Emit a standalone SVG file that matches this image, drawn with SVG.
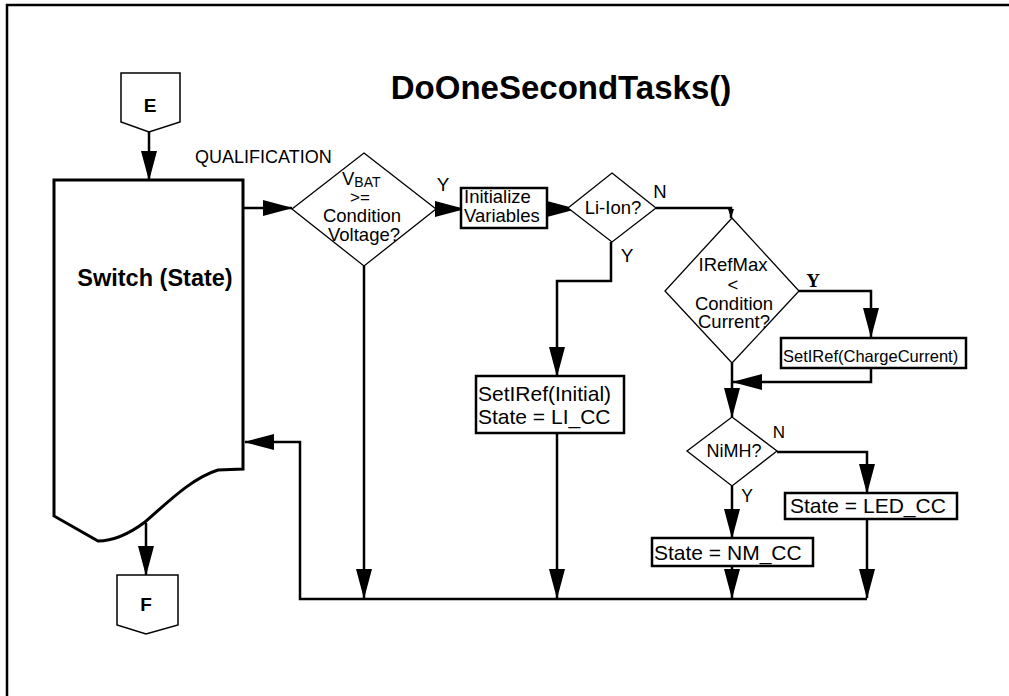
<svg xmlns="http://www.w3.org/2000/svg" width="1009" height="696" viewBox="0 0 1009 696">
<style>
text{font-family:"Liberation Sans",Arial,sans-serif;fill:#000}
.b{font-weight:bold}
.c{text-anchor:middle}
.dia{fill:#fff;stroke:#000;stroke-width:1.3}
.box{fill:#fff;stroke:#000;stroke-width:2.5}
.conn{fill:none;stroke:#000;stroke-width:2.5}
.off{fill:#fff;stroke:#000;stroke-width:1.5}
.t18{font-size:18.5px}
.t21{font-size:21px}
</style>
<defs>
<marker id="arr" markerUnits="userSpaceOnUse" markerWidth="30" markerHeight="18" refX="29" refY="8" orient="auto" viewBox="0 0 30 16">
<path d="M0,0 L30,8 L0,16 Z" fill="#000"/>
</marker>
<marker id="arrs" markerUnits="userSpaceOnUse" markerWidth="9" markerHeight="6" refX="9" refY="3" orient="auto" viewBox="0 0 9 6">
<path d="M0,0 L9,3 L0,6 Z" fill="#000"/>
</marker>
</defs>
<rect width="1009" height="696" fill="#fff"/>
<path d="M7,696 V5 H1009" fill="none" stroke="#000" stroke-width="2.5"/>
<text class="b c" x="561" y="99" font-size="33">DoOneSecondTasks()</text>

<g id="connectors">
<path class="conn" d="M149,132 V180" marker-end="url(#arr)"/>
<path class="conn" d="M243,208 H292" marker-end="url(#arr)"/>
<path class="conn" d="M436,209 H464" marker-end="url(#arr)"/>
<path class="conn" d="M547,209 H576" marker-end="url(#arr)"/>
<path class="conn" d="M656,208 H731 V218" marker-end="url(#arrs)"/>
<path class="conn" d="M611,242 V281 H557 V376" marker-end="url(#arr)"/>
<path class="conn" d="M799,291 H871 V337" marker-end="url(#arr)"/>
<path class="conn" d="M871,368 V382 H733" marker-end="url(#arr)"/>
<path class="conn" d="M732,363 V417" marker-end="url(#arr)"/>
<path class="conn" d="M777,452 H867 V493" marker-end="url(#arr)"/>
<path class="conn" d="M732,486 V538" marker-end="url(#arr)"/>
<path class="conn" d="M732,566 V598" marker-end="url(#arr)"/>
<path class="conn" d="M867,519 V598" marker-end="url(#arr)"/>
<path class="conn" d="M557,433 V598" marker-end="url(#arr)"/>
<path class="conn" d="M364,266 V598" marker-end="url(#arr)"/>
<path class="conn" d="M867,599 H300 V442 H245" marker-end="url(#arr)"/>
<path class="conn" d="M146,523 V575" marker-end="url(#arr)"/>
<text x="195" y="163" font-size="18">QUALIFICATION</text>
<text class="c" x="443" y="191" font-size="19">Y</text>
<text class="c" x="627" y="262" font-size="19">Y</text>
<text class="c" x="660" y="198" font-size="18.5">N</text>
<text class="c" x="813" y="287" font-size="19" font-weight="bold" style="font-family:'Liberation Serif','Times New Roman',serif">Y</text>
<text class="c" x="779" y="438" font-size="17">N</text>
<text class="c" x="747" y="502" font-size="17.5">Y</text>
</g>

<g id="nodeE">
<path class="off" d="M121,73 H180 V122 L149,132 L121,122 Z"/>
<text class="b c" x="150" y="112" font-size="19">E</text>
</g>

<g id="nodeF">
<path class="off" d="M117,575 H178 V625 L146,634 L117,625 Z"/>
<text class="b c" x="146" y="611" font-size="19">F</text>
</g>

<g id="switch">
<path d="M54,180 H243 V469 L218,470 C192,478 168,502 145,522 C125,537 110,541 98,541 L54,516 Z" fill="#fff" stroke="#000" stroke-width="3"/>
<text class="b c" x="155" y="286" font-size="23.5">Switch (State)</text>
</g>

<g id="vbat">
<path class="dia" d="M364,153 L436,209 L364,266 L292,209 Z"/>
<text x="342" y="185" font-size="18.5">V<tspan font-size="14" dy="2">BAT</tspan></text>
<text class="c" x="360" y="203" font-size="17">&gt;=</text>
<text class="c t18" x="362" y="222">Condition</text>
<text class="c t18" x="364" y="241">Voltage?</text>
</g>

<g id="init">
<rect class="box" x="461" y="188" width="86" height="40"/>
<text class="t18" x="464" y="203">Initialize</text>
<text class="t18" x="464" y="222">Variables</text>
</g>

<g id="liion">
<path class="dia" d="M612,173 L656,208 L612,242 L568,208 Z"/>
<text class="c t18" x="613" y="214">Li-Ion?</text>
</g>

<g id="irefmax">
<path class="dia" d="M732,218 L799,291 L732,363 L665,291 Z"/>
<text class="c t18" x="733" y="271">IRefMax</text>
<text class="c t18" x="733" y="291">&lt;</text>
<text class="c t18" x="734" y="310">Condition</text>
<text class="c t18" x="734" y="328">Current?</text>
</g>

<g id="chargecurrent">
<rect class="box" x="781" y="338" width="185" height="30"/>
<text x="783" y="362" font-size="16.5">SetIRef(ChargeCurrent)</text>
</g>

<g id="liinit">
<rect class="box" x="476" y="376" width="148" height="57"/>
<text class="t21" x="478" y="401">SetIRef(Initial)</text>
<text class="t21" x="478" y="424">State = LI_CC</text>
</g>

<g id="nimh">
<path class="dia" d="M732,417 L777,451 L732,486 L687,451 Z"/>
<text class="c" x="734" y="457" font-size="18">NiMH?</text>
</g>

<g id="nmcc">
<rect class="box" x="652" y="538" width="161" height="28"/>
<text class="t21" x="654" y="560">State = NM_CC</text>
</g>

<g id="ledcc">
<rect class="box" x="785" y="493" width="172" height="26"/>
<text class="t21" x="790" y="513">State = LED_CC</text>
</g>
</svg>
